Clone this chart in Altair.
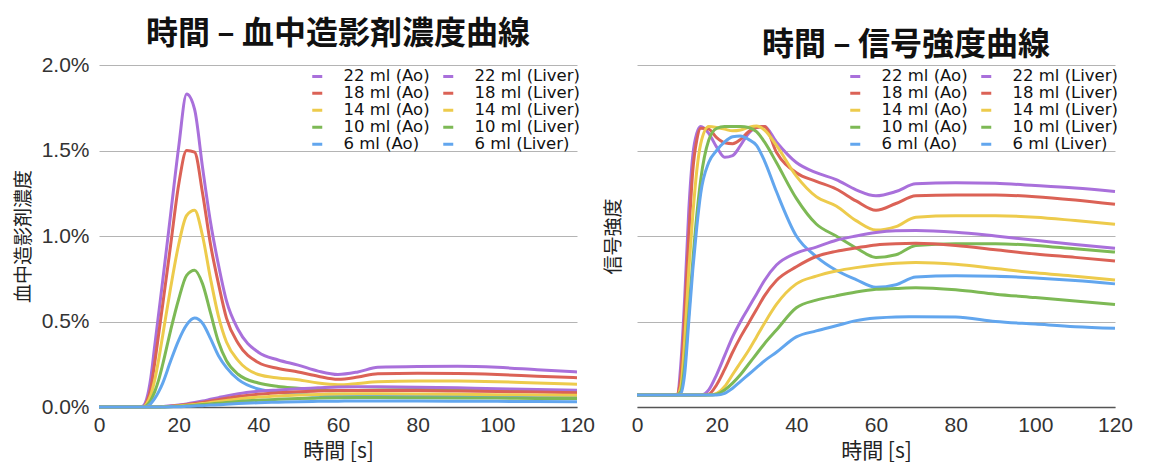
import altair as alt
import pandas as pd

TIME = [0, 10, 11, 12, 13, 14, 15, 16, 18, 20, 22, 24, 26, 28, 30, 32, 35, 40, 45, 50, 55, 60, 65, 70, 80, 90, 100, 110, 120]
VOLUMES = ["22", "18", "14", "10", "6"]
COLORS = ["#A970DB", "#DB6256", "#EDCB4C", "#7DB955", "#62A6EE"]
X_TICKS = [0, 20, 40, 60, 80, 100, 120]
Y_TICKS = [0, 0.5, 1.0, 1.5, 2.0]

# blood contrast concentration (%)
conc_ao_22 = [0, 0, 0.005, 0.05, 0.17, 0.36, 0.55, 0.74, 1.13, 1.52, 1.83, 1.74, 1.40, 1.08, 0.83, 0.62, 0.45, 0.32, 0.275, 0.245, 0.21, 0.19, 0.205, 0.232, 0.237, 0.238, 0.232, 0.218, 0.205]
conc_ao_18 = [0, 0, 0, 0.03, 0.11, 0.26, 0.43, 0.6, 0.95, 1.3, 1.5, 1.49, 1.25, 0.95, 0.72, 0.52, 0.37, 0.26, 0.225, 0.205, 0.18, 0.162, 0.175, 0.195, 0.197, 0.196, 0.19, 0.18, 0.171]
conc_ao_14 = [0, 0, 0, 0.02, 0.07, 0.16, 0.28, 0.42, 0.7, 0.95, 1.12, 1.15, 1.0, 0.75, 0.53, 0.38, 0.27, 0.19, 0.17, 0.16, 0.14, 0.13, 0.138, 0.148, 0.152, 0.152, 0.148, 0.14, 0.133]
conc_ao_10 = [0, 0, 0, 0.01, 0.04, 0.09, 0.16, 0.25, 0.45, 0.63, 0.77, 0.80, 0.72, 0.55, 0.38, 0.27, 0.19, 0.14, 0.12, 0.11, 0.1, 0.095, 0.097, 0.1, 0.102, 0.1, 0.098, 0.095, 0.092]
conc_ao_6 = [0, 0, 0, 0.003, 0.02, 0.05, 0.09, 0.14, 0.27, 0.39, 0.48, 0.52, 0.49, 0.4, 0.3, 0.23, 0.16, 0.105, 0.085, 0.075, 0.068, 0.063, 0.063, 0.065, 0.066, 0.065, 0.063, 0.061, 0.058]
conc_lv_22 = [0, 0, 0, 0, 0, 0, 0.001, 0.003, 0.007, 0.012, 0.018, 0.026, 0.035, 0.045, 0.055, 0.065, 0.078, 0.092, 0.1, 0.107, 0.112, 0.117, 0.118, 0.118, 0.116, 0.112, 0.107, 0.102, 0.098]
conc_lv_18 = [0, 0, 0, 0, 0, 0, 0, 0.002, 0.005, 0.009, 0.014, 0.02, 0.027, 0.035, 0.043, 0.051, 0.062, 0.075, 0.083, 0.089, 0.093, 0.096, 0.097, 0.097, 0.096, 0.093, 0.09, 0.087, 0.084]
conc_lv_14 = [0, 0, 0, 0, 0, 0, 0, 0.001, 0.003, 0.006, 0.01, 0.015, 0.02, 0.026, 0.032, 0.038, 0.047, 0.058, 0.065, 0.07, 0.073, 0.076, 0.077, 0.077, 0.076, 0.074, 0.072, 0.07, 0.068]
conc_lv_10 = [0, 0, 0, 0, 0, 0, 0, 0, 0.002, 0.004, 0.007, 0.01, 0.014, 0.018, 0.022, 0.026, 0.032, 0.04, 0.045, 0.049, 0.052, 0.054, 0.055, 0.055, 0.054, 0.053, 0.052, 0.05, 0.049]
conc_lv_6 = [0, 0, 0, 0, 0, 0, 0, 0, 0.001, 0.002, 0.004, 0.006, 0.008, 0.011, 0.013, 0.016, 0.02, 0.025, 0.028, 0.031, 0.033, 0.034, 0.035, 0.035, 0.035, 0.034, 0.033, 0.032, 0.031]

# signal intensity (same hidden scale)
sig_ao_22 = [0.07, 0.07, 0.25, 0.65, 1.15, 1.47, 1.6, 1.64, 1.6, 1.52, 1.46, 1.47, 1.53, 1.6, 1.635, 1.64, 1.55, 1.43, 1.37, 1.33, 1.27, 1.235, 1.26, 1.305, 1.312, 1.308, 1.295, 1.28, 1.26]
sig_ao_18 = [0.07, 0.07, 0.18, 0.55, 1.0, 1.38, 1.56, 1.63, 1.625, 1.575, 1.545, 1.54, 1.565, 1.61, 1.635, 1.64, 1.49, 1.37, 1.32, 1.275, 1.205, 1.15, 1.19, 1.235, 1.24, 1.24, 1.23, 1.21, 1.185]
sig_ao_14 = [0.07, 0.07, 0.12, 0.4, 0.8, 1.12, 1.38, 1.54, 1.64, 1.635, 1.625, 1.615, 1.62, 1.635, 1.643, 1.62, 1.53, 1.35, 1.23, 1.175, 1.09, 1.035, 1.055, 1.11, 1.118, 1.118, 1.11, 1.09, 1.068]
sig_ao_10 = [0.07, 0.07, 0.09, 0.25, 0.55, 0.85, 1.12, 1.33, 1.56, 1.63, 1.64, 1.64, 1.64, 1.635, 1.61, 1.55, 1.43, 1.22, 1.07, 1.0, 0.93, 0.875, 0.89, 0.945, 0.955, 0.955, 0.945, 0.925, 0.906]
sig_ao_6 = [0.07, 0.07, 0.08, 0.2, 0.5, 0.8, 1.05, 1.25, 1.43, 1.5, 1.55, 1.58, 1.585, 1.565, 1.53, 1.44, 1.26, 1.0, 0.88, 0.8, 0.745, 0.7, 0.715, 0.76, 0.768, 0.765, 0.755, 0.74, 0.72]
sig_lv_22 = [0.07, 0.07, 0.07, 0.07, 0.07, 0.07, 0.07, 0.07, 0.1, 0.19, 0.3, 0.41, 0.5, 0.58, 0.66, 0.74, 0.83, 0.9, 0.935, 0.975, 1.0, 1.02, 1.03, 1.032, 1.022, 1.0, 0.975, 0.95, 0.928]
sig_lv_18 = [0.07, 0.07, 0.07, 0.07, 0.07, 0.07, 0.07, 0.07, 0.075, 0.13, 0.22, 0.32, 0.41, 0.49, 0.57, 0.65, 0.74, 0.82, 0.88, 0.91, 0.93, 0.948, 0.955, 0.957, 0.945, 0.92, 0.895, 0.875, 0.854]
sig_lv_14 = [0.07, 0.07, 0.07, 0.07, 0.07, 0.07, 0.07, 0.07, 0.07, 0.08, 0.12, 0.19, 0.26, 0.33, 0.41, 0.49, 0.6, 0.72, 0.765, 0.795, 0.815, 0.83, 0.84, 0.845, 0.835, 0.81, 0.785, 0.765, 0.743]
sig_lv_10 = [0.07, 0.07, 0.07, 0.07, 0.07, 0.07, 0.07, 0.07, 0.07, 0.075, 0.1, 0.14, 0.19, 0.25, 0.31, 0.37, 0.45, 0.58, 0.625, 0.65, 0.672, 0.688, 0.693, 0.697, 0.685, 0.66, 0.64, 0.62, 0.6]
sig_lv_6 = [0.07, 0.07, 0.07, 0.07, 0.07, 0.07, 0.07, 0.07, 0.07, 0.07, 0.08, 0.11, 0.15, 0.19, 0.23, 0.27, 0.32, 0.41, 0.445, 0.475, 0.505, 0.52, 0.527, 0.528, 0.527, 0.5, 0.485, 0.47, 0.46]

CONC = {"Ao": [conc_ao_22, conc_ao_18, conc_ao_14, conc_ao_10, conc_ao_6],
        "Liver": [conc_lv_22, conc_lv_18, conc_lv_14, conc_lv_10, conc_lv_6]}
SIG = {"Ao": [sig_ao_22, sig_ao_18, sig_ao_14, sig_ao_10, sig_ao_6],
       "Liver": [sig_lv_22, sig_lv_18, sig_lv_14, sig_lv_10, sig_lv_6]}

# legend fills column-major: Ao column first, Liver column second
ORDER, RANGE = [], []
for site in ["Ao", "Liver"]:
    for vol, col in zip(VOLUMES, COLORS):
        ORDER.append(f"{vol} ml ({site})")
        RANGE.append(col)


def long_df(src):
    rows = []
    for site in ["Ao", "Liver"]:
        for i, (vol, vals) in enumerate(zip(VOLUMES, src[site])):
            name = f"{vol} ml ({site})"
            for t, v in zip(TIME, vals):
                rows.append({"t": t, "v": v, "series": name, "k": i})
    return pd.DataFrame(rows)


JP = "Noto Sans CJK JP"
LAT = "Liberation Sans"
LEG = "DejaVu Sans"


def panel(df, title, ytitle, show_ylabels, title_dx, ytitle_pad):
    yaxis = alt.Axis(values=Y_TICKS, title=ytitle, grid=True, gridColor="#b4b4b4", gridWidth=1,
                     domain=False, ticks=False, labels=show_ylabels,
                     labelExpr="format(datum.value, '.1f') + '%'",
                     labelFont=LAT, labelFontSize=21, labelColor="#333", labelPadding=10,
                     titleFont=JP, titleFontSize=19, titleFontWeight="normal", titleColor="#222",
                     titlePadding=ytitle_pad)
    return alt.Chart(df).mark_line(strokeWidth=3, interpolate="monotone").encode(
        x=alt.X("t:Q", scale=alt.Scale(domain=[0, 120], nice=False),
                axis=alt.Axis(values=X_TICKS, title="時間 [s]", grid=False, ticks=False,
                              labelFlush=False,
                              domainColor="#555", domainWidth=1.5,
                              labelFont=LAT, labelFontSize=21, labelColor="#333", labelPadding=7,
                              titleFont=JP, titleFontSize=21, titleFontWeight="normal",
                              titleColor="#222", titlePadding=5)),
        y=alt.Y("v:Q", scale=alt.Scale(domain=[0, 2.0], nice=False), axis=yaxis),
        color=alt.Color("series:N", scale=alt.Scale(domain=ORDER, range=RANGE), sort=ORDER,
                        legend=alt.Legend(title=None, orient="none", legendX=210, legendY=3,
                                          columns=2, symbolType="stroke", symbolStrokeWidth=3,
                                          symbolSize=100, labelFont=LEG, labelFontSize=16.5,
                                          labelColor="#111", labelOffset=18, columnPadding=10,
                                          rowPadding=0, clipHeight=16.5)),
        order=alt.Order("k:Q", sort="descending"),
    ).properties(width=478, height=342,
                 title=alt.TitleParams(title, font=JP, fontSize=32, fontWeight="bold",
                                       color="#111", anchor="middle", offset=3, dx=title_dx))


left = panel(long_df(CONC), "時間 – 血中造影剤濃度曲線", "血中造影剤濃度", True, 0, 8)
right = panel(long_df(SIG), "時間 – 信号強度曲線", "信号強度", False, 30, 14)

chart = alt.hconcat(left, right, spacing=9).resolve_scale(color="independent").resolve_legend(
    color="independent").properties(padding={"left": 6, "top": 10, "right": 2, "bottom": 2}).configure_view(
    stroke=None)

chart.save("out.html", embed_options={"renderer": "svg", "actions": False})
